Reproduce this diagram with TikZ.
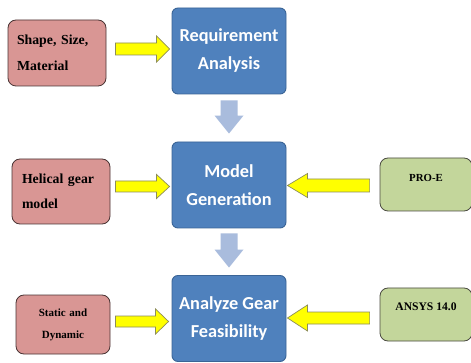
\documentclass[tikz,border=0pt]{standalone}
\usepackage{fontspec}
\setmainfont{Liberation Serif}
\newfontfamily\tnrb{Liberation Serif Bold}
\newfontfamily\calb{Carlito Bold}
\usetikzlibrary{calc}
\definecolor{bluefill}{HTML}{4F81BD}
\definecolor{blueborder}{HTML}{3A6496}
\definecolor{redfill}{HTML}{D99694}
\definecolor{redborder}{HTML}{4A3434}
\definecolor{greenfill}{HTML}{C3D69B}
\definecolor{greenborder}{HTML}{4A4A40}
\definecolor{yfill}{HTML}{FFFF00}
\definecolor{yborder}{HTML}{8C8C5A}
\definecolor{downfill}{HTML}{A9BCDD}
\newcommand{\hblockarrow}[5]{%
  \draw[yarrow] let \p1=(#1), \p2=(#2) in
   (\x1,{\y2+#4}) -- ({\x2-(#3)},{\y2+#4}) -- ({\x2-(#3)},{\y2+#5}) -- (\x2,\y2)
   -- ({\x2-(#3)},{\y2-#5}) -- ({\x2-(#3)},{\y2-#4}) -- (\x1,{\y2-#4}) -- cycle;}
\newcommand{\vblockarrow}[5]{%
  \fill[downfill] let \p1=(#1), \p2=(#2) in
   ({\x1-#4},\y1) -- ({\x1-#4},{\y2+#3}) -- ({\x1-#5},{\y2+#3}) -- (\x1,\y2)
   -- ({\x1+#5},{\y2+#3}) -- ({\x1+#4},{\y2+#3}) -- ({\x1+#4},\y1) -- cycle;}
\begin{document}
\begin{tikzpicture}[x=1pt,y=-1pt,
  bluebox/.style={draw=blueborder, line width=0.9pt, fill=bluefill, rounded corners=6pt,
    minimum width=114pt, minimum height=86pt, inner sep=0pt, align=center, text=white,
    font=\calb\fontsize{18.3}{28}\selectfont},
  redbox/.style={draw=redborder, line width=0.8pt, fill=redfill, rounded corners=8pt,
    inner ysep=0pt},
  greenbox/.style={draw=greenborder, line width=0.8pt, fill=greenfill, rounded corners=8pt,
    minimum width=92pt, minimum height=53pt, inner ysep=0pt, text height=8pt, align=center},
  yarrow/.style={draw=yborder, line width=0.7pt, fill=yfill, line join=miter}]
\useasboundingbox (0,0) rectangle (471,363);
\fill[white] (0,0) rectangle (471,363);
% main blue boxes
\node[bluebox] (b1) at (229,51) {Requirement\\Analysis};
\node[bluebox] (b2) at (229,185) {Model\\Generation};
\node[bluebox] (b3) at (229,318.5) {Analyze Gear\\Feasibility};
% red input boxes
\node[redbox, minimum width=98pt, minimum height=66pt, inner xsep=9pt, text width=80pt,
  align=left, font=\tnrb\fontsize{13.8}{26}\selectfont] (r1) at (57,53) {Shape, Size,\\Material};
\node[redbox, minimum width=98pt, minimum height=65pt, inner xsep=10pt, text width=78pt,
  align=left, font=\tnrb\fontsize{13.8}{25}\selectfont] (r2) at (61,191.5) {Helical gear\\model};
\node[redbox, minimum width=94pt, minimum height=59pt, inner xsep=0pt, text width=94pt,
  align=center, font=\tnrb\fontsize{11}{22}\selectfont] (r3) at (63,324.5) {Static and\\Dynamic};
% green tool boxes
\node[greenbox, text depth=13pt, font=\tnrb\fontsize{10.8}{13}\selectfont] (g2) at (426,184.5) {PRO-E};
\node[greenbox, text depth=17pt, font=\tnrb\fontsize{11.6}{14}\selectfont] (g3) at (426,314.5) {ANSYS 14.0};
% yellow arrows
\hblockarrow{$(r1.east)+(9,0)$}{$(b1.west)+(-2,-2)$}{13pt}{6pt}{13pt}
\hblockarrow{$(r2.east)+(5,0)$}{$(b2.west)+(-2,1.5)$}{13pt}{5.5pt}{12pt}
\hblockarrow{$(r3.east)+(5,0)$}{$(b3.west)+(-3,3)$}{13pt}{5.5pt}{12.5pt}
\hblockarrow{$(g2.west)+(-10,0)$}{$(b2.east)+(1,0.5)$}{-20pt}{6.5pt}{12pt}
\hblockarrow{$(g3.west)+(-10,0)$}{$(b3.east)+(1,-0.5)$}{-20pt}{6pt}{13pt}
% down arrows
\vblockarrow{$(b1.south)+(0,6)$}{$(b2.north)+(0,-8)$}{18pt}{8.5pt}{14.5pt}
\vblockarrow{$(b2.south)+(0,5)$}{$(b3.north)+(0,-7.5)$}{18pt}{8.5pt}{14.5pt}
\end{tikzpicture}
\end{document}
